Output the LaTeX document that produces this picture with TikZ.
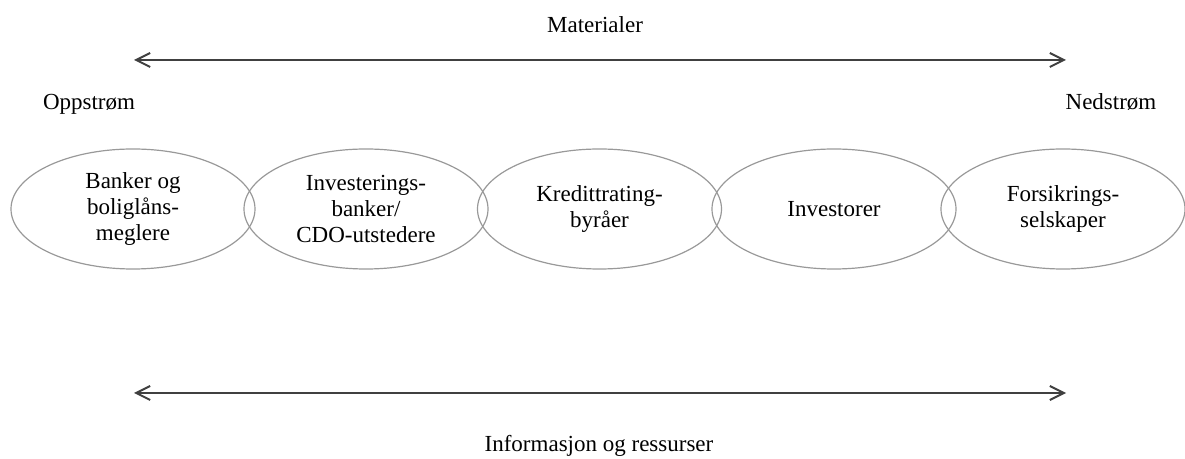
\documentclass[tikz,border=0pt]{standalone}
\usepackage{fontspec}
\setmainfont{Liberation Serif}
\usetikzlibrary{shapes.geometric,arrows.meta}

\tikzset{ledd/.style   = {ellipse, draw=black!40, line width=0.6pt,
                          minimum width=122pt, minimum height=60pt,
                          inner sep=0pt, align=center},
         flyt/.style   = {{Straight Barb[length=7pt,width=7pt]}-{Straight Barb[length=7pt,width=7pt]},
                          line width=1pt, color=black!75},
         etikett/.style = {anchor=base, inner sep=0pt}}

\begin{document}
\begin{tikzpicture}[x=0.5pt, y=-0.5pt,
                    every node/.style={font=\fontsize{11.5}{12.8}\selectfont}]

\useasboundingbox (0,0) rectangle (1185,459);

% top arrow
\node[etikett] (materialer) at (595, 33) {Materialer};
\coordinate (matV) at (134, 60);
\coordinate (matH) at (1066, 60);
\draw[flyt] (matV) -- (matH);

\node[etikett] (oppstrom) at (89, 110) {Oppstrøm};
\node[etikett] (nedstrom) at (1111, 110) {Nedstrøm};

% chain
\node[ledd] (banker)     at (133, 209)  {Banker og\\boliglåns-\\meglere};
\node[ledd] (invbank)    at (366, 209)  {Investerings-\\banker/\\CDO-utstedere};
\node[ledd] (rating)     at (599.5, 209) {Kredittrating-\\byråer};
\node[ledd] (investorer) at (834, 209)  {Investorer};
\node[ledd] (forsikring) at (1063, 209) {Forsikrings-\\selskaper};

% bottom arrow
\coordinate (infV) at (134, 393);
\coordinate (infH) at (1066, 393);
\draw[flyt] (infV) -- (infH);
\node[etikett] (informasjon) at (599, 452) {Informasjon og ressurser};

\end{tikzpicture}
\end{document}
